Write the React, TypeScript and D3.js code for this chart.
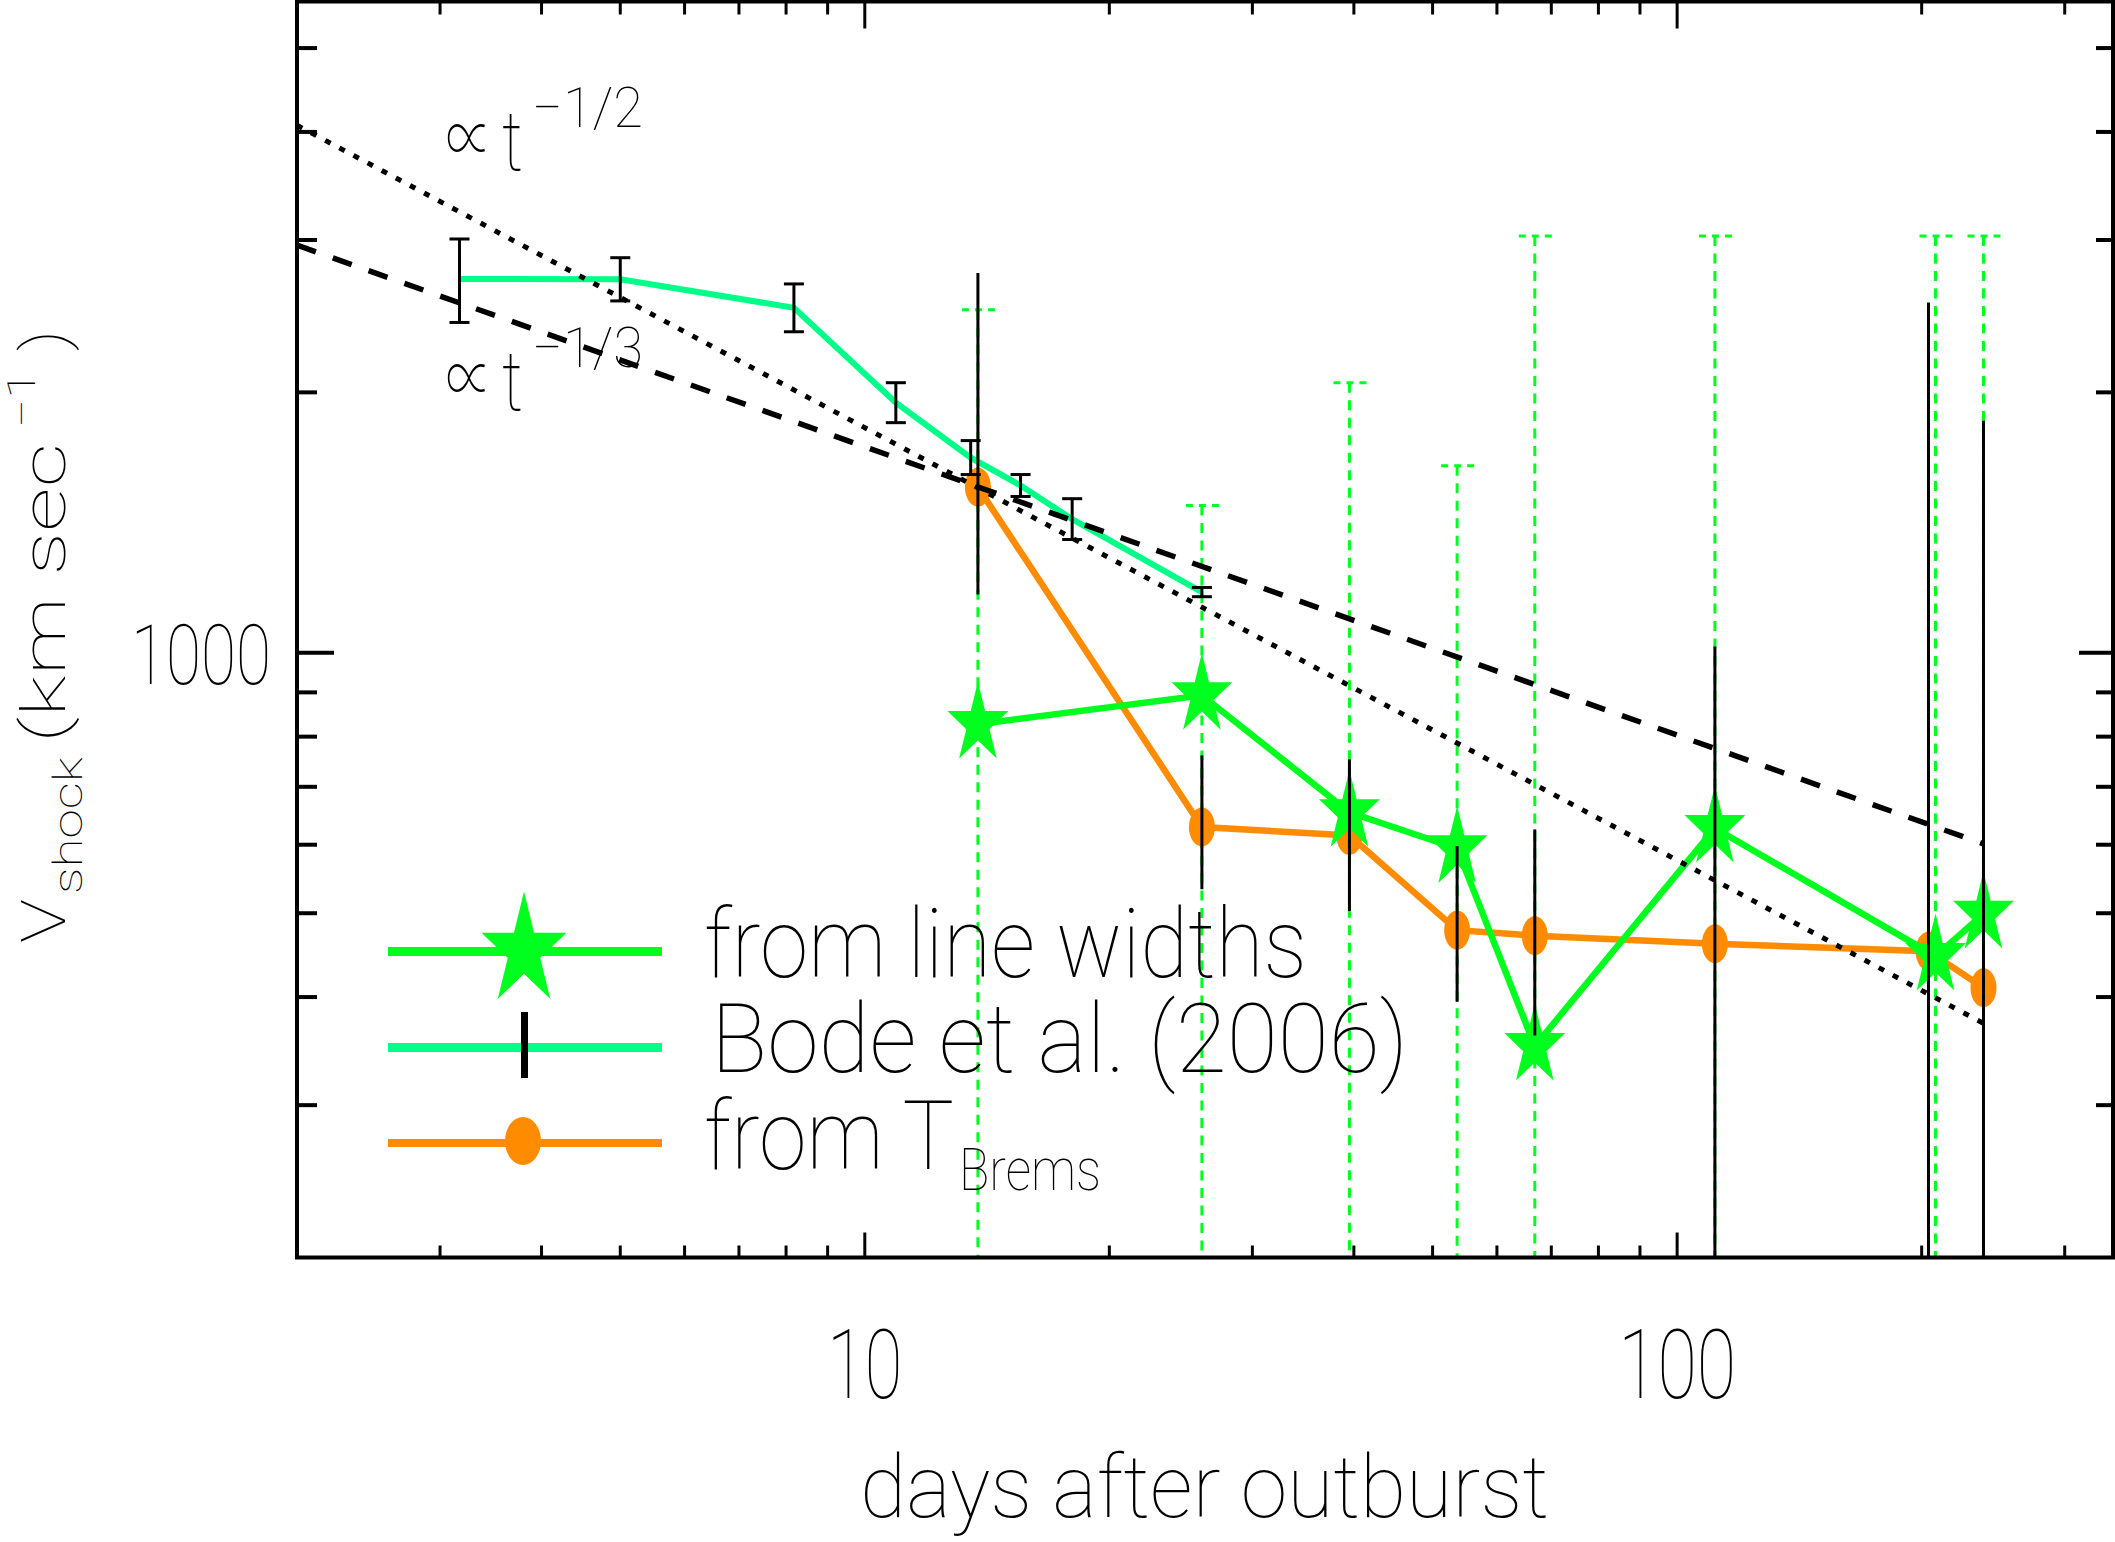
import React from "react";
import * as d3 from "d3";

// ---------- data ----------
const bodeDays = [3.17, 5.0, 8.18, 10.92, 13.5, 15.55, 18.0, 26.0];
const bodeV = [2705, 2702, 2505, 1946, 1681, 1561, 1427, 1175];
const bodeLo = [2409, 2551, 2350, 1845, 1607, 1516, 1352, 1161];
const bodeHi = [3009, 2862, 2669, 2052, 1759, 1607, 1507, 1190];

const widthDays = [13.78, 26.0, 39.5, 53.6, 66.8, 111.3, 208.0, 238.3];
const widthV = [827, 893, 654, 594, 351, 627, 446, 499];
const widthHi = [2491, 1480, 2052, 1645, 3033, 3033, 3033, 3033];
// lower error bounds fall below the plotted range (null = off scale)
const widthLo: (number | null)[] = [null, null, null, null, null, null, null, null];

const bremsDays = [13.78, 26.0, 39.5, 53.6, 66.8, 111.3, 203.9, 238.3];
const bremsV = [1554, 629, 615, 478, 471, 461, 452, 410];
const bremsHi = [2747, 761, 753, 598, 625, 1017, 2540, 1854];
const bremsLo: (number | null)[] = [1168, 533, 503, 395, 361, null, null, null];

// power laws: value at day 2 and exponent, drawn over [2, 238] days
const lawHalf = { v2: 4071, exp: -1 / 2 };
const lawThird = { v2: 2959, exp: -1 / 3 };
const lawDays = [2, 238.3];

const xMajorTicks = [10, 100];
const xMinorTicks = [3, 4, 5, 6, 7, 8, 9, 20, 30, 40, 50, 60, 70, 80, 90, 200, 300];
const yMajorTicks = [1000];
const yMinorTicks = [300, 400, 500, 600, 700, 800, 900, 2000, 3000, 4000, 5000];

const legendLabels = ["from line widths", "Bode et al. (2006)", "from T"];

// ---------- styling ----------
const W = 2115;
const H = 1542;
const LEFT = 297, RIGHT = 2113, TOP = 1.5, BOTTOM = 1257.5;
const GREEN = "#00ff1e";
const BODE = "#00ff88";
const ORANGE = "#ff8c00";
const FONT = "Roboto, 'DejaVu Sans', sans-serif";
const SYMFONT = "'Noto Sans CJK SC', 'Noto Sans', 'DejaVu Sans', sans-serif";
const ASPECT = 1.33; // vertical stretch of plot symbols

const x = d3.scaleLog().domain([2, 344]).range([LEFT, RIGHT]);
const y = d3.scaleLog().domain([200, 5660]).range([BOTTOM, TOP]);

const starPath = (R: number) =>
  d3.symbol().type(d3.symbolStar).size((R * R) / 0.8908130915292852)() as string;

function Txt(props: any) {
  const { x: tx, y: ty, size, len, anchor = "start", children, weight = 100, family = FONT, transform } = props;
  return (
    <text
      x={tx}
      y={ty}
      fontSize={size}
      fontFamily={family}
      fontWeight={weight}
      textLength={len}
      lengthAdjust="spacingAndGlyphs"
      textAnchor={anchor}
      transform={transform}
      fill="#000"
    >
      {children}
    </text>
  );
}

// one text element made of positioned pieces
function Multi(props: any) {
  const { parts, transform } = props;
  return (
    <text fontFamily={FONT} fontWeight={100} fill="#000" transform={transform}>
      {parts.map((p: any, i: number) => (
        <tspan
          key={i}
          x={p.x}
          y={p.y}
          fontSize={p.size}
          fontFamily={p.family || FONT}
          textLength={p.len}
          lengthAdjust="spacingAndGlyphs"
        >
          {p.t}
        </tspan>
      ))}
    </text>
  );
}

function PowerLabel(props: any) {
  const { baseY, sup } = props;
  return (
    <g>
      <Txt
        x={0}
        y={0}
        size={54}
        len={46}
        family={SYMFONT}
        transform={`translate(446,${baseY - 5}) scale(1,1.35)`}
      >
        ∝
      </Txt>
      <Txt x={502} y={baseY} size={84} len={21}>
        t
      </Txt>
      <Txt x={532} y={baseY - 43} size={56} len={111}>
        {sup}
      </Txt>
    </g>
  );
}

export default function App() {
  const line = d3
    .line<[number, number]>()
    .x((d) => x(d[0]))
    .y((d) => y(d[1]));

  const bodePts = bodeDays.map((d, i) => [d, bodeV[i]] as [number, number]);
  const widthPts = widthDays.map((d, i) => [d, widthV[i]] as [number, number]);
  const bremsPts = bremsDays.map((d, i) => [d, bremsV[i]] as [number, number]);

  const lawPts = (law: { v2: number; exp: number }) =>
    lawDays.map((t) => [t, law.v2 * Math.pow(t / 2, law.exp)] as [number, number]);

  const lowY = (v: number | null) => (v === null ? BOTTOM : y(v));

  return (
    <svg
      width={W}
      height={H}
      style={{ position: "absolute", left: 0, top: 0, display: "block" }}
      xmlns="http://www.w3.org/2000/svg"
    >
      <rect x={0} y={0} width={W} height={H} fill="#fff" />
      <defs>
        <clipPath id="plotClip">
          <rect x={LEFT} y={TOP} width={RIGHT - LEFT} height={BOTTOM - TOP} />
        </clipPath>
      </defs>

      <g clipPath="url(#plotClip)">
        {/* green dashed error bars (from line widths) */}
        {widthDays.map((d, i) => (
          <g key={"gerr" + i} stroke={GREEN} strokeWidth={3}>
            <line
              x1={x(d)}
              x2={x(d)}
              y1={y(widthHi[i])}
              y2={lowY(widthLo[i])}
              strokeDasharray="10 7.5"
            />
            <line
              x1={x(d) - 16}
              x2={x(d) + 17}
              y1={y(widthHi[i])}
              y2={y(widthHi[i])}
              strokeDasharray="7 6"
            />
          </g>
        ))}

        {/* orange: from T_Brems */}
        <path d={line(bremsPts) || ""} fill="none" stroke={ORANGE} strokeWidth={6.5} />
        {bremsPts.map((p, i) => (
          <ellipse key={"oc" + i} cx={x(p[0])} cy={y(p[1])} rx={13} ry={19.5} fill={ORANGE} />
        ))}

        {/* Bode et al. line */}
        <path d={line(bodePts) || ""} fill="none" stroke={BODE} strokeWidth={6} />

        {/* green stars: from line widths */}
        <path d={line(widthPts) || ""} fill="none" stroke={GREEN} strokeWidth={6.5} />
        {widthPts.map((p, i) => (
          <path
            key={"st" + i}
            d={starPath(32)}
            transform={`translate(${x(p[0])},${y(p[1])}) scale(1,${ASPECT})`}
            fill={GREEN}
          />
        ))}

        {/* power-law guides */}
        <path
          d={line(lawPts(lawHalf)) || ""}
          fill="none"
          stroke="#000"
          strokeWidth={5}
          strokeDasharray="6 10"
        />
        <path
          d={line(lawPts(lawThird)) || ""}
          fill="none"
          stroke="#000"
          strokeWidth={5.5}
          strokeDasharray="20 18"
        />

        {/* black error bars for T_Brems */}
        {bremsDays.map((d, i) => (
          <line
            key={"berr" + i}
            x1={x(d)}
            x2={x(d)}
            y1={y(bremsHi[i])}
            y2={lowY(bremsLo[i])}
            stroke="#000"
            strokeWidth={3}
          />
        ))}

        {/* Bode error bars with caps */}
        {bodeDays.map((d, i) => (
          <g key={"bode" + i} stroke="#000" strokeWidth={3}>
            <line x1={x(d)} x2={x(d)} y1={y(bodeHi[i])} y2={y(bodeLo[i])} />
            <line x1={x(d) - 10} x2={x(d) + 10} y1={y(bodeHi[i])} y2={y(bodeHi[i])} />
            <line x1={x(d) - 10} x2={x(d) + 10} y1={y(bodeLo[i])} y2={y(bodeLo[i])} />
          </g>
        ))}
      </g>

      {/* frame */}
      <rect
        x={LEFT}
        y={TOP}
        width={RIGHT - LEFT}
        height={BOTTOM - TOP}
        fill="none"
        stroke="#000"
        strokeWidth={4}
      />

      {/* ticks */}
      <g stroke="#000" strokeWidth={3}>
        {xMinorTicks.map((t) => (
          <g key={"xm" + t}>
            <line x1={x(t)} x2={x(t)} y1={BOTTOM} y2={BOTTOM - 12} />
            <line x1={x(t)} x2={x(t)} y1={TOP} y2={TOP + 13} />
          </g>
        ))}
        {xMajorTicks.map((t) => (
          <g key={"xM" + t}>
            <line x1={x(t)} x2={x(t)} y1={BOTTOM} y2={BOTTOM - 25} />
            <line x1={x(t)} x2={x(t)} y1={TOP} y2={TOP + 27} />
          </g>
        ))}
        {yMinorTicks.map((t) => (
          <g key={"ym" + t}>
            <line x1={LEFT} x2={LEFT + 20} y1={y(t)} y2={y(t)} strokeWidth={4} />
            <line x1={RIGHT} x2={RIGHT - 17} y1={y(t)} y2={y(t)} strokeWidth={4} />
          </g>
        ))}
        {yMajorTicks.map((t) => (
          <g key={"yM" + t}>
            <line x1={LEFT} x2={LEFT + 37} y1={y(t)} y2={y(t)} strokeWidth={4} />
            <line x1={RIGHT} x2={RIGHT - 34} y1={y(t)} y2={y(t)} strokeWidth={4} />
          </g>
        ))}
      </g>

      {/* tick labels */}
      {xMajorTicks.map((t) => (
        <Txt key={"xl" + t} x={x(t)} y={1398} size={96} len={String(t).length === 2 ? 75 : 118} anchor="middle">
          {String(t)}
        </Txt>
      ))}
      {yMajorTicks.map((t) => (
        <Txt key={"yl" + t} x={271} y={y(t) + 31} size={84} len={140} anchor="end">
          {String(t)}
        </Txt>
      ))}

      {/* axis titles */}
      <Txt x={860} y={1517} size={88} len={689}>
        days after outburst
      </Txt>
      <Multi
        transform="translate(65,943) rotate(-90)"
        parts={[
          { t: "V", x: 0, y: 0, size: 62, len: 44 },
          { t: "shock", x: 49, y: 17, size: 40, len: 137 },
          { t: "(km sec", x: 200, y: 0, size: 62, len: 300 },
          { t: "−1", x: 515, y: -30, size: 38, len: 57 },
          { t: ")", x: 592, y: 0, size: 62, len: 21 },
        ]}
      />

      {/* power-law annotations */}
      <PowerLabel baseY={170} sup="−1/2" />
      <PowerLabel baseY={410} sup="−1/3" />

      {/* legend */}
      <g>
        <line x1={388} x2={662} y1={951.5} y2={951.5} stroke={GREEN} strokeWidth={9} />
        <path d={starPath(44.7)} transform={`translate(524,951) scale(1,${ASPECT})`} fill={GREEN} />
        <Txt x={704} y={977} size={97} len={603}>
          {legendLabels[0]}
        </Txt>

        <line x1={388} x2={662} y1={1047.5} y2={1047.5} stroke={BODE} strokeWidth={9} />
        <line x1={524.5} x2={524.5} y1={1012} y2={1078} stroke="#000" strokeWidth={7} />
        <Txt x={711} y={1072} size={97} len={697}>
          {legendLabels[1]}
        </Txt>

        <line x1={388} x2={662} y1={1143} y2={1143} stroke={ORANGE} strokeWidth={8} />
        <ellipse cx={523} cy={1141} rx={18} ry={24} fill={ORANGE} />
        <Multi
          parts={[
            { t: legendLabels[2], x: 704, y: 1169, size: 97, len: 250 },
            { t: "Brems", x: 959, y: 1190, size: 60, len: 142 },
          ]}
        />
      </g>
    </svg>
  );
}
